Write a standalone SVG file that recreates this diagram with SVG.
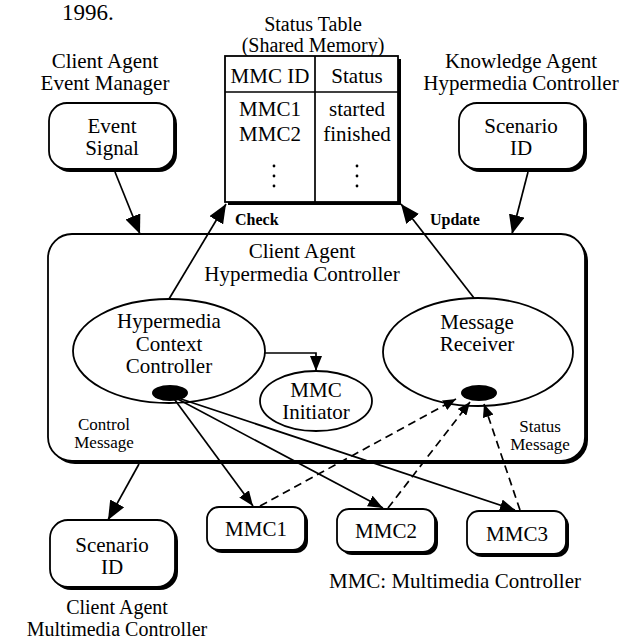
<svg xmlns="http://www.w3.org/2000/svg" width="634" height="641" viewBox="0 0 634 641">
<style>
text { font-family: "Liberation Serif", "Times New Roman", serif; fill: #000; }
.t { font-size: 21px; text-anchor: middle; }
.t2 { font-size: 20px; text-anchor: middle; }
.s { font-size: 17px; text-anchor: middle; }
.b { font-size: 16px; font-weight: bold; }
.box { fill: #fff; stroke: #000; stroke-width: 1.8; }
.sh { fill: #000; }
.ln { stroke: #000; stroke-width: 1.7; fill: none; }
.dash { stroke-dasharray: 8 5; }
</style>
<defs>
<marker id="big" markerUnits="userSpaceOnUse" markerWidth="20" markerHeight="16" refX="19" refY="8" orient="auto">
<path d="M0,0 L19,8 L0,16 z" fill="#000"/>
</marker>
<marker id="ah" markerUnits="userSpaceOnUse" markerWidth="16" markerHeight="12" refX="15" refY="6" orient="auto">
<path d="M0,0 L15,6 L0,12 z" fill="#000"/>
</marker>
<marker id="sm" markerUnits="userSpaceOnUse" markerWidth="14" markerHeight="11" refX="13" refY="5.5" orient="auto">
<path d="M0,0 L13,5.5 L0,11 z" fill="#000"/>
</marker>
</defs>
<rect width="634" height="641" fill="#fff"/>

<text x="62" y="20" style="font-size:23px">1996.</text>

<g id="status-table">
<text class="t2" x="313" y="31">Status Table</text>
<text class="t2" x="313" y="52">(Shared Memory)</text>
<rect class="sh" x="228" y="59" width="173" height="146"/>
<rect class="box" x="225" y="56" width="173" height="146"/>
<line class="ln" x1="225" y1="92" x2="398" y2="92"/>
<line class="ln" x1="315" y1="56" x2="315" y2="202"/>
<text class="t" x="270" y="83">MMC ID</text>
<text class="t" x="357" y="83">Status</text>
<text class="t" x="270" y="116">MMC1</text>
<text class="t" x="357" y="116">started</text>
<text class="t" x="270" y="141">MMC2</text>
<text class="t" x="357" y="141">finished</text>
<circle cx="274" cy="166" r="1.4"/><circle cx="274" cy="176" r="1.4"/><circle cx="274" cy="186" r="1.4"/>
<circle cx="357" cy="166" r="1.4"/><circle cx="357" cy="176" r="1.4"/><circle cx="357" cy="186" r="1.4"/>
</g>

<g id="event-signal">
<text class="t" x="105" y="68">Client Agent</text>
<text class="t" x="105" y="90">Event Manager</text>
<rect class="sh" x="52" y="106" width="125" height="66" rx="18"/>
<rect class="box" x="49" y="103" width="125" height="66" rx="18"/>
<text class="t" x="112" y="133">Event</text>
<text class="t" x="112" y="155">Signal</text>
</g>

<g id="scenario-id-top">
<text class="t" x="521" y="68">Knowledge Agent</text>
<text class="t" x="521" y="90">Hypermedia Controller</text>
<rect class="sh" x="462" y="106" width="125" height="66" rx="18"/>
<rect class="box" x="459" y="103" width="125" height="66" rx="18"/>
<text class="t" x="521" y="133">Scenario</text>
<text class="t" x="521" y="155">ID</text>
</g>

<g id="client-hypermedia-controller">
<rect class="sh" x="51" y="237" width="537" height="227" rx="24"/>
<rect class="box" x="48" y="234" width="537" height="227" rx="24"/>
<text class="t" x="302" y="258">Client Agent</text>
<text class="t" x="302" y="281">Hypermedia Controller</text>
<text class="s" x="104" y="430">Control</text>
<text class="s" x="104" y="448">Message</text>
<text class="s" x="540" y="432">Status</text>
<text class="s" x="540" y="450">Message</text>
</g>

<g id="hcc">
<ellipse class="box" cx="169" cy="351" rx="96" ry="52"/>
<text class="t" x="169" y="328">Hypermedia</text>
<text class="t" x="169" y="351">Context</text>
<text class="t" x="169" y="373">Controller</text>
<ellipse cx="170" cy="393" rx="18" ry="8" fill="#000"/>
</g>

<g id="message-receiver">
<ellipse class="box" cx="478" cy="352" rx="95" ry="54"/>
<text class="t" x="477" y="329">Message</text>
<text class="t" x="477" y="351">Receiver</text>
<ellipse cx="479" cy="393" rx="18" ry="8" fill="#000"/>
</g>

<g id="mmc-initiator">
<ellipse class="box" cx="316" cy="401" rx="56" ry="30"/>
<text class="t" x="316" y="397">MMC</text>
<text class="t" x="316" y="419">Initiator</text>
</g>

<g id="mmc1">
<rect class="sh" x="210" y="510" width="98" height="43" rx="12"/>
<rect class="box" x="207" y="507" width="98" height="43" rx="12"/>
<text class="t" x="256" y="536">MMC1</text>
</g>
<g id="mmc2">
<rect class="sh" x="340" y="512" width="98" height="43" rx="12"/>
<rect class="box" x="337" y="509" width="98" height="43" rx="12"/>
<text class="t" x="386" y="538">MMC2</text>
</g>
<g id="mmc3">
<rect class="sh" x="470" y="514" width="99" height="43" rx="12"/>
<rect class="box" x="467" y="511" width="99" height="43" rx="12"/>
<text class="t" x="517" y="541">MMC3</text>
</g>

<g id="scenario-id-bottom">
<rect class="sh" x="53" y="523" width="125" height="67" rx="18"/>
<rect class="box" x="50" y="520" width="125" height="67" rx="18"/>
<text class="t" x="112" y="552">Scenario</text>
<text class="t" x="112" y="574">ID</text>
<text class="t2" x="117" y="614">Client Agent</text>
<text class="t2" x="117" y="636">Multimedia Controller</text>
</g>

<text class="t" x="455" y="588">MMC: Multimedia Controller</text>

<g id="connectors">
<line class="ln" x1="115" y1="172" x2="140" y2="234" marker-end="url(#big)"/>
<line class="ln" x1="528" y1="172" x2="512" y2="234" marker-end="url(#big)"/>
<line class="ln" x1="169" y1="299" x2="226" y2="204" marker-end="url(#big)"/>
<line class="ln" x1="474" y1="298" x2="401" y2="204" marker-end="url(#big)"/>
<text class="b" x="235" y="225">Check</text>
<text class="b" x="430" y="225">Update</text>
<polyline class="ln" points="265,353 316,353 316,371" marker-end="url(#ah)"/>
<line class="ln" x1="172" y1="396" x2="253" y2="506" marker-end="url(#ah)"/>
<line class="ln" x1="172" y1="396" x2="383" y2="508" marker-end="url(#ah)"/>
<line class="ln" x1="172" y1="396" x2="515" y2="510" marker-end="url(#ah)"/>
<line class="ln dash" x1="260" y1="506" x2="456" y2="399" marker-end="url(#sm)"/>
<line class="ln dash" x1="388" y1="508" x2="470" y2="402" marker-end="url(#sm)"/>
<line class="ln dash" x1="520" y1="510" x2="484" y2="404" marker-end="url(#sm)"/>
<line class="ln" x1="139" y1="464" x2="108" y2="520" marker-end="url(#big)"/>
</g>
</svg>
